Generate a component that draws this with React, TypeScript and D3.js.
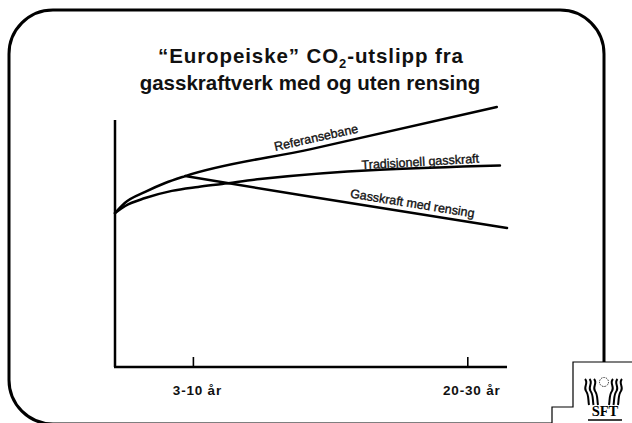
import React from "react";
import * as d3 from "d3";

// time index along the x axis (0 = today, 100 = right end of axis)
const tickPositions = [20, 90];
const tickLabels = ["3-10 år", "20-30 år"];

// emissions index
const refT = [0, 2.5, 7.7, 12.8, 17.9, 50, 97.4];
const refV = [62.3, 66.4, 70.9, 74.5, 77.3, 88.2, 105.3];

const tradT = [0, 2.6, 7.7, 14.5, 21.2, 27.3, 37, 98.2];
const tradV = [62.3, 65.2, 68.4, 71.3, 72.9, 74.1, 76.1, 81.6];

// branches off the reference path
const rensT = [17.9, 50, 100];
const rensV = [77.3, 68.9, 56.3];

const seriesNames = ["Referansebane", "Tradisjonell gasskraft", "Gasskraft med rensing"];

const W = 632;
const H = 423;

type Pt = [number, number];
const zip = (a: number[], b: number[]): Pt[] => a.map((d, i) => [d, b[i]]);

export default function App() {
    const x = d3.scaleLinear([0, 100], [115, 507]);
    const y = d3.scaleLinear([0, 100], [367, 120]);

    const smooth = d3.line<Pt>((d) => x(d[0]), (d) => y(d[1])).curve(d3.curveMonotoneX);
    const straight = d3.line<Pt>((d) => x(d[0]), (d) => y(d[1]));

    const ref = zip(refT, refV);
    const trad = zip(tradT, tradV);
    const rens = zip(rensT, rensV);

    // label placed along a straight stretch of a series
    const label = (pts: Pt[], i0: number, i1: number, t: number, off: number, text: string) => {
        const [a, b] = [pts[i0], pts[i1]];
        const ax = x(a[0]), ay = y(a[1]), bx = x(b[0]), by = y(b[1]);
        const ang = Math.atan2(by - ay, bx - ax);
        const px = x(t);
        const py = ay + (px - ax) * (by - ay) / (bx - ax);
        return (
            <text
                transform={`translate(${px},${py}) rotate(${(ang * 180) / Math.PI}) translate(0,${-off})`}
                textAnchor="middle"
                fontSize={12.5}
                fill="#111"
                stroke="#111"
                strokeWidth={0.35}
            >
                {text}
            </text>
        );
    };

    // frame with rounded corners
    const L = 9, T = 10, R = 604, B = 424, r = 44;
    const frame = `M${R},362 L${R},${T + r} A${r},${r} 0 0 0 ${R - r},${T} L${L + r},${T} A${r},${r} 0 0 0 ${L},${T + r} L${L},${B - r} A${r},${r} 0 0 0 ${L + r},${B} L552,${B}`;

    const wave = (x0: number, dir: number) =>
        `M${x0},379 c${dir * 4},4 ${dir * -2},8 ${dir * 1},12 c${dir * 3},4 ${dir * 2},9 ${dir * 3},14`;

    return (
        <svg width={W} height={H} style={{ position: "absolute", left: 0, top: 0, background: "#fff" }}
            fontFamily="'Liberation Sans', Arial, sans-serif">
            <rect width={W} height={H} fill="#fff" />
            <path d={frame} fill="none" stroke="#000" strokeWidth={3} />

            {/* title */}
            <g textAnchor="middle" fontWeight="bold" fontSize={20.5} fill="#111">
                <text x={311} y={63} letterSpacing={0.9}>
                    “Europeiske” CO<tspan fontSize={13} dy={5}>2</tspan>
                    <tspan dy={-5}>-utslipp fra</tspan>
                </text>
                <text x={310} y={90}>gasskraftverk med og uten rensing</text>
            </g>

            {/* axes */}
            <line x1={x(0)} x2={x(0)} y1={y(100)} y2={y(0)} stroke="#000" strokeWidth={2.5} />
            <line x1={x(0) - 1} x2={x(100)} y1={y(0)} y2={y(0)} stroke="#000" strokeWidth={2.5} />
            {tickPositions.map((t, i) => (
                <g key={i}>
                    <line x1={x(t)} x2={x(t)} y1={y(0) - 10} y2={y(0)} stroke="#000" strokeWidth={1.6} />
                    <text x={x(t) + 4} y={395} textAnchor="middle" fontSize={13.5} fontWeight="bold"
                        letterSpacing={0.8} fill="#111">
                        {tickLabels[i]}
                    </text>
                </g>
            ))}

            {/* series */}
            <g fill="none" stroke="#000" strokeWidth={2.5} strokeLinecap="round">
                <path d={smooth(ref)!} />
                <path d={smooth(trad)!} />
                <path d={straight(rens)!} />
            </g>
            {label(ref, 4, 6, 51.8, 5, seriesNames[0])}
            {label(trad, 6, 7, 78, 4, seriesNames[1])}
            {label(rens, 0, 2, 75.5, 5, seriesNames[2])}

            {/* SFT logo box */}
            <g fill="none" stroke="#000" strokeWidth={1.2}>
                <path d="M632,362 L573,362 L573,407 L552,407 L552,423" />
            </g>
            <g fill="none" stroke="#000" strokeWidth={2}>
                {[585, 589.5, 594].map((x0) => <path key={x0} d={wave(x0, 1)} />)}
                {[613, 617.5, 622].map((x0) => <path key={x0} d={wave(x0, -1)} />)}
                <circle cx={604} cy={382} r={4.5} strokeWidth={0.8} strokeDasharray="1.5 1" />
            </g>
            <text x={605} y={416} textAnchor="middle" fontFamily="'Liberation Serif', serif" fontWeight="bold"
                fontSize={14.5} fill="#000">SFT</text>
            <line x1={588} x2={622} y1={420} y2={420} stroke="#000" strokeWidth={1.3} />
        </svg>
    );
}
